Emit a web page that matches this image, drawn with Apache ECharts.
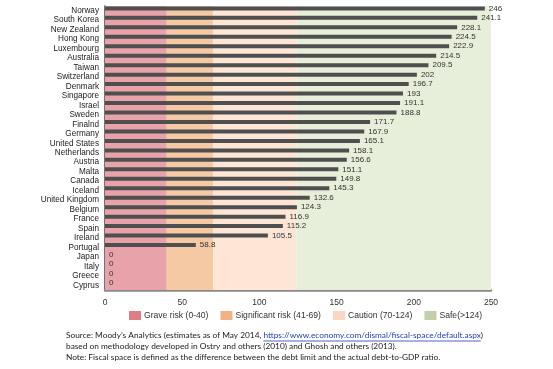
<!DOCTYPE html>
<html>
<head>
<meta charset="utf-8">
<script src="https://cdn.jsdelivr.net/npm/echarts@6/dist/echarts.min.js"></script>
<style>
html,body{margin:0;padding:0;background:#fff;}
#c{width:553px;height:369px;}
</style>
</head>
<body>
<div id="c"></div>
<script>
var countries = ["Norway","South Korea","New Zealand","Hong Kong","Luxembourg","Australia","Taiwan","Switzerland","Denmark","Singapore","Israel","Sweden","Finalnd","Germany","United States","Netherlands","Austria","Malta","Canada","Iceland","United Kingdom","Belgium","France","Spain","Ireland","Portugal","Japan","Italy","Greece","Cyprus"];
var fiscalSpace = [246,241.1,228.1,224.5,222.9,214.5,209.5,202,196.7,193,191.1,188.8,171.7,167.9,165.1,158.1,156.6,151.1,149.8,145.3,132.6,124.3,116.9,115.2,105.5,58.8,0,0,0,0];
var bandNames = ["Grave risk (0-40)","Significant risk (41-69)","Caution (70-124)","Safe(>124)"];
var bandStart = [0,40,70,124];
var bandEnd = [40,70,124,250];
var xTicks = [0,50,100,150,200,250];
var footerPrefix = "Source: Moody\u2019s Analytics (estimates as of May 2014, ";
var footerUrl = "https://www.economy.com/dismal/fiscal-space/default.aspx";
var footerSuffix = ")";
var footerLine2 = "based on methodology developed in Ostry and others (2010) and Ghosh and others (2013).";
var footerLine3 = "Note: Fiscal space is defined as the difference between the debt limit and the actual debt-to-GDP ratio.";

var bandColors = ["#e8a3aa","#f4c9a4","#fde6d6","#e7eed9"];
var legendColors = ["#e07c85","#f0b385","#f9d6c1","#c3cfa8"];
var SANS = "'Liberation Sans', Arial, sans-serif";
var FOOT = "Lato, 'Open Sans', sans-serif";
var footSize = 8.3;

var chart = echarts.init(document.getElementById('c'), null, {renderer:'canvas'});

var markData = bandNames.map(function(n,i){
  return [{xAxis: bandStart[i], itemStyle:{color: bandColors[i]}},{xAxis: bandEnd[i]}];
});

var series = [{
  type:'bar',
  name:'Fiscal space',
  data: fiscalSpace,
  barWidth: 4,
  itemStyle:{color:'#4f4f4f'},
  label:{show:true, position:'right', distance:4, color:'#333', fontFamily:SANS, fontSize:8},
  markArea:{silent:true, label:{show:false}, data: markData},
  z:3
}];
bandNames.forEach(function(n,i){
  series.push({type:'bar', name:n, data:[], itemStyle:{color:legendColors[i]}});
});

var ctx = document.createElement('canvas').getContext('2d');
ctx.font = footSize + 'px ' + FOOT;
var wPrefix = ctx.measureText(footerPrefix).width;
var wUrl = ctx.measureText(footerUrl).width;
var fx = 66, fy1 = 337;

chart.setOption({
  animation:false,
  grid:{left:105, right:62, top:6, bottom:79, containLabel:false},
  legend:{
    left:129, top:311, padding:0, itemWidth:12, itemHeight:9, itemGap:12,
    icon:'rect',
    data: bandNames,
    textStyle:{fontFamily:SANS, fontSize:8.6, color:'#333', padding:[0,0,0,-2]},
    selectedMode:false
  },
  xAxis:{
    type:'value', min:0, max:250, interval:50,
    axisLine:{show:true, onZero:false, lineStyle:{color:'#8a8a8a', width:2.5}},
    axisTick:{show:false}, splitLine:{show:false},
    axisLabel:{color:'#333', fontFamily:SANS, fontSize:8.5, margin:8,
      customValues: xTicks}
  },
  yAxis:{
    type:'category', inverse:true, data: countries,
    axisLine:{show:true, lineStyle:{color:'#444', width:1.5}},
    axisTick:{show:false},
    axisLabel:{color:'#222', fontFamily:SANS, fontSize:8.2, margin:6, interval:0}
  },
  series: series,
  graphic:[
    {type:'text', left:fx, top:fy1-6, style:{
      text:'{a|'+footerPrefix+'}{u|'+footerUrl+'}{a|'+footerSuffix+'}',
      rich:{a:{fontFamily:FOOT,fontSize:footSize,fill:'#222'}, u:{fontFamily:FOOT,fontSize:footSize,fill:'#1c3fb5'}}
    }},
    {type:'line', shape:{x1:fx+wPrefix, y1:fy1+4, x2:fx+wPrefix+wUrl, y2:fy1+4}, style:{stroke:'#1c3fb5', lineWidth:0.8}},
    {type:'text', left:fx, top:fy1+5, style:{text:footerLine2, fontFamily:FOOT, fontSize:footSize, fill:'#222'}},
    {type:'text', left:fx, top:fy1+16, style:{text:footerLine3, fontFamily:FOOT, fontSize:footSize, fill:'#222'}}
  ]
});
</script>
</body>
</html>
